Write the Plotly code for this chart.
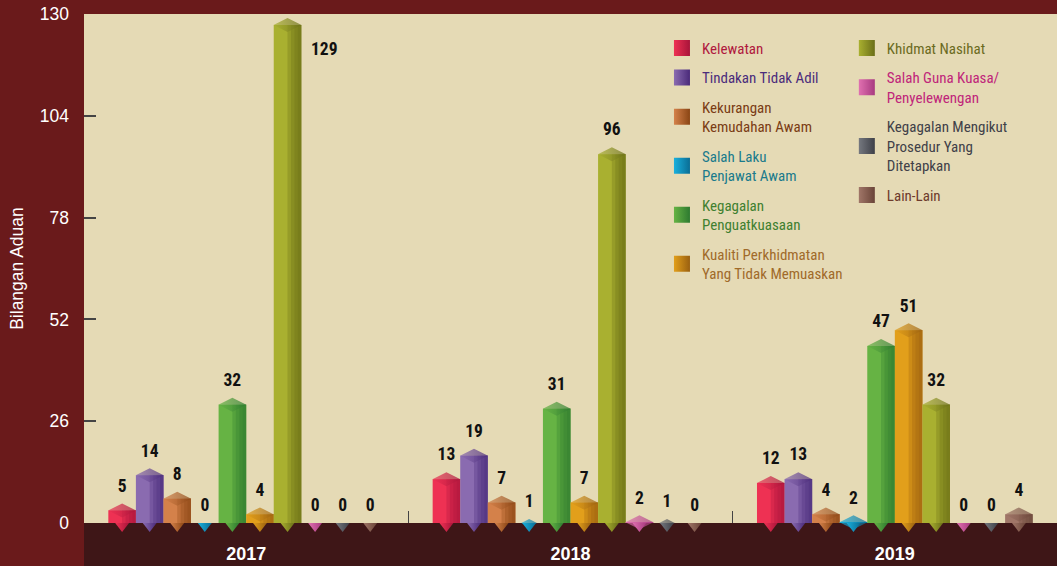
import plotly.graph_objects as go

YEARS = ["2017", "2018", "2019"]

SERIES = [
    "Kelewatan",
    "Tindakan Tidak Adil",
    "Kekurangan<br>Kemudahan Awam",
    "Salah Laku<br>Penjawat Awam",
    "Kegagalan<br>Penguatkuasaan",
    "Kualiti Perkhidmatan<br>Yang Tidak Memuaskan",
    "Khidmat Nasihat",
    "Salah Guna Kuasa/<br>Penyelewengan",
    "Kegagalan Mengikut<br>Prosedur Yang<br>Ditetapkan",
    "Lain-Lain",
]

kelewatan = [5, 13, 12]
tindakan_tidak_adil = [14, 19, 13]
kekurangan_kemudahan = [8, 7, 4]
salah_laku = [0, 1, 2]
kegagalan_penguatkuasaan = [32, 31, 47]
kualiti_perkhidmatan = [4, 7, 51]
khidmat_nasihat = [129, 96, 32]
salah_guna_kuasa = [0, 2, 0]
kegagalan_prosedur = [0, 1, 0]
lain_lain = [0, 0, 4]

VALUES = [kelewatan, tindakan_tidak_adil, kekurangan_kemudahan, salah_laku,
          kegagalan_penguatkuasaan, kualiti_perkhidmatan, khidmat_nasihat,
          salah_guna_kuasa, kegagalan_prosedur, lain_lain]

BAR_COLORS = ["#ee3153", "#8a6bb0", "#d4814a", "#19b0dd", "#66b344",
              "#e29f1b", "#a9b030", "#e070b0", "#75787f", "#a07668"]
DARK_COLORS = ["#a8143a", "#4a2a7a", "#8a4514", "#0a6d95", "#2d7a30",
               "#9a6010", "#6a6e18", "#a83a80", "#3e4048", "#6a4438"]
TEXT_COLORS = ["#b0183e", "#4b2c7c", "#7a3c14", "#1a7a8c", "#3f8030",
               "#a06a2a", "#6b6b1e", "#c0257a", "#404048", "#6e3a2c"]
LEGEND_OF = ["legend"] * 6 + ["legend2"] * 4

NARROW = "Liberation Sans Narrow, Roboto Condensed, Arial Narrow, Roboto, sans-serif"
REGULAR = "Liberation Sans, Arial, Roboto, sans-serif"
CAP = 1.8          # height of the pointed cap, in value units
PX_PER_UNIT = 3.9  # approx pixel height of one unit
BARGAP = 0.15
N = len(SERIES)
SLOT = (1 - BARGAP) / N
SHADE_STARTS = [0.5, 0.625, 0.75, 0.875]

fig = go.Figure()

for k, (name, vals) in enumerate(zip(SERIES, VALUES)):
    col = BAR_COLORS[k]
    dark = DARK_COLORS[k]
    og = str(k)
    body = [max(v - CAP, 0) for v in vals]
    # bar body (grouped by plotly)
    fig.add_trace(go.Bar(
        x=YEARS, y=body, offsetgroup=og, name=name, showlegend=False,
        legendgroup=og, marker=dict(color=col, line=dict(width=0)),
        customdata=vals, hovertemplate="%{x}: %{customdata}<extra></extra>",
    ))
    # right-side shading of the bar body (simulated gradient)
    left = -(1 - BARGAP) / 2 + k * SLOT
    for f in SHADE_STARTS:
        fig.add_trace(go.Bar(
            x=YEARS, y=body, offset=left + f * SLOT, width=(1 - f) * SLOT,
            showlegend=False, legendgroup=og, hoverinfo="skip",
            marker=dict(color=dark, opacity=0.3, line=dict(width=0)),
        ))
    # pointed cap
    cap_sizes = [min(20, v * PX_PER_UNIT / 0.35) for v in vals]
    fig.add_trace(go.Scatter(
        x=YEARS, y=body, offsetgroup=og, mode="markers", showlegend=False,
        legendgroup=og, cliponaxis=False, hoverinfo="skip",
        marker=dict(symbol="diamond-wide", size=cap_sizes, color=col,
                    gradient=dict(type="horizontal", color=dark),
                    line=dict(width=0)),
    ))
    # bottom pointer below the zero line
    fig.add_trace(go.Scatter(
        x=YEARS, y=[0] * len(vals), offsetgroup=og, mode="markers",
        showlegend=False, legendgroup=og, cliponaxis=False, hoverinfo="skip",
        marker=dict(symbol="triangle-down", size=12, standoff=3, color=col,
                    gradient=dict(type="horizontal", color=dark),
                    line=dict(width=0)),
    ))
    # value labels
    near_top = [v > 120 for v in vals]
    fig.add_trace(go.Scatter(
        x=YEARS, y=vals, offsetgroup=og, mode="markers+text",
        showlegend=False, legendgroup=og, cliponaxis=False, hoverinfo="skip",
        text=[str(v) for v in vals],
        textposition=["bottom right" if t else "top center" for t in near_top],
        textfont=dict(family=NARROW, size=17.5, color="#111111", weight="bold"),
        marker=dict(size=[36 if t else 10 for t in near_top], opacity=0),
    ))
    # legend entry
    tc = TEXT_COLORS[k]
    label = "<br>".join(f"<span style='color:{tc}'>{ln}</span>" for ln in name.split("<br>"))
    fig.add_trace(go.Scatter(
        x=[None], y=[None], offsetgroup=og, mode="markers", name=label,
        legendgroup=og, legend=LEGEND_OF[k],
        marker=dict(symbol="square", size=16, color=col,
                    gradient=dict(type="horizontal", color=dark),
                    line=dict(width=0)),
    ))

legend_common = dict(
    xanchor="left", yanchor="top", bgcolor="rgba(0,0,0,0)",
    font=dict(family=NARROW, size=15), tracegroupgap=7,
    traceorder="grouped", itemclick=False, itemdoubleclick=False,
)

fig.update_layout(
    width=1057, height=566, autosize=False,
    margin=dict(l=84, r=0, t=14, b=43, pad=0),
    paper_bgcolor="#6a1a1b", plot_bgcolor="#e5dab5",
    barmode="group", bargap=BARGAP, bargroupgap=0,
    scattermode="group", scattergap=BARGAP,
    font=dict(family=NARROW, color="white"),
    legend=dict(x=0.594, y=0.965, **legend_common),
    legend2=dict(x=0.784, y=0.965, **legend_common),
    xaxis=dict(
        type="category", categoryorder="array", categoryarray=YEARS,
        ticks="inside", tickson="boundaries", ticklen=12, tickcolor="#444444",
        tickwidth=1, showgrid=False, zeroline=False, showline=False,
        tickfont=dict(family=REGULAR, size=18, color="white", weight="bold"),
        ticklabelstandoff=18, fixedrange=True,
    ),
    yaxis=dict(
        range=[0, 130], tickvals=[0, 26, 52, 78, 104, 130],
        ticks="inside", ticklen=12, tickcolor="#444444", tickwidth=1.5,
        showgrid=False, zeroline=False, showline=False,
        tickfont=dict(family=REGULAR, size=17.5, color="white"),
        ticklabelstandoff=14, fixedrange=True,
        title=dict(text="Bilangan Aduan", standoff=11,
                   font=dict(family=REGULAR, size=17.5, color="white")),
    ),
    shapes=[dict(type="rect", xref="paper", yref="paper", x0=0, x1=1,
                 y0=-0.2, y1=0, fillcolor="#3e1617", line=dict(width=0),
                 layer="below")],
    showlegend=True,
)

fig.write_html("out.html", include_plotlyjs=True,
               config={"displayModeBar": False},
               post_script="document.body.style.margin='0px';")
